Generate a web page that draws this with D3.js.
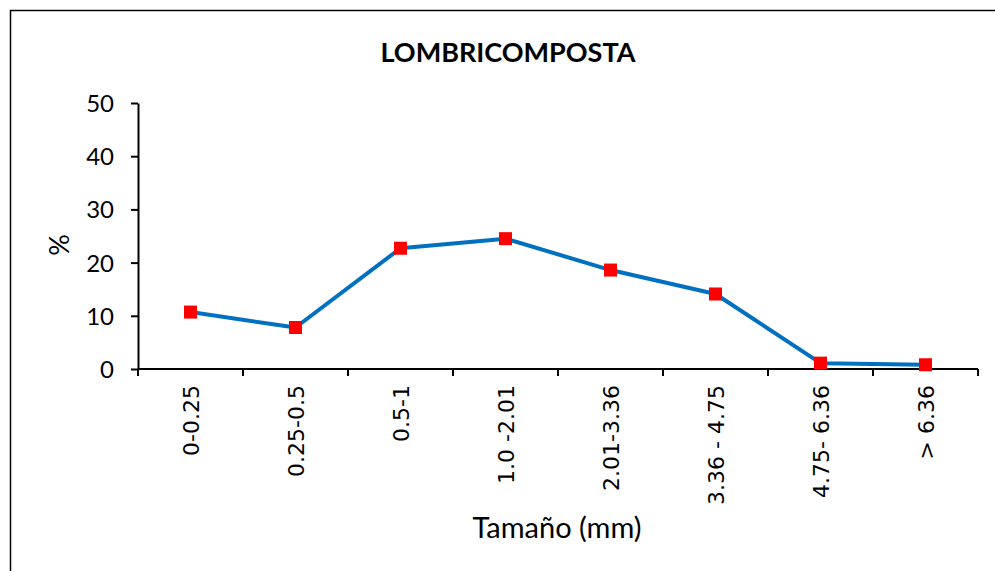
<!DOCTYPE html>
<head>
  <meta charset="utf-8">
  <script src="https://cdn.jsdelivr.net/npm/d3@7"></script>
  <style>
    body { margin: 0; background: #fff; }
    .axis path, .axis line { stroke: #000; stroke-width: 2; }
  </style>
</head>
<body>
<script>
  let categories = ["0-0.25", "0.25-0.5", "0.5-1", "1.0 -2.01", "2.01-3.36", "3.36 - 4.75", "4.75- 6.36", "> 6.36"];
  let percent = [10.7, 7.8, 22.7, 24.5, 18.6, 14.1, 1.1, 0.8];
  let yTicks = [0, 10, 20, 30, 40, 50];

  let svg_width = 995;
  let svg_height = 571;
  let padding = {top: 103, right: 17, bottom: 202, left: 138};

  let svg = d3.select("body").append("svg")
          .attr("width", svg_width)
          .attr("height", svg_height)

  // chart frame
  svg.append("rect")
          .attr("x", 10.5).attr("y", 10.5)
          .attr("width", 1000).attr("height", 600)
          .attr("fill", "none").attr("stroke", "#000").attr("stroke-width", 1.5)

  let xScale = d3.scaleBand()
          .domain(categories)
          .range([padding.left, svg_width - padding.right])

  let yScale = d3.scaleLinear()
          .domain([0, 50])
          .range([svg_height - padding.bottom, padding.top])

  // x axis: ticks at category boundaries
  let x_axis_g = svg.append("g")
          .attr("class", "axis")
          .attr("transform", "translate(0," + yScale(0) + ")")
  x_axis_g.append("line")
          .attr("x1", xScale.range()[0]).attr("x2", xScale.range()[1])
  let bounds = categories.map(function (c) { return xScale(c) }).concat([xScale.range()[1]])
  x_axis_g.selectAll(".tk")
          .data(bounds)
          .enter()
          .append("line")
          .attr("x1", function (d) { return d }).attr("x2", function (d) { return d })
          .attr("y1", 0).attr("y2", 7)
  x_axis_g.selectAll("text")
          .data(categories)
          .enter()
          .append("text")
          .attr("transform", function (d) {
            return "translate(" + (xScale(d) + xScale.bandwidth() / 2 + 8) + ",16) rotate(-90)"
          })
          .attr("text-anchor", "end")
          .style("font-family", "DejaVu Sans")
          .style("font-size", "22px")
          .text(function (d) { return d })

  let y_axis = d3.axisLeft(yScale)
          .tickValues(yTicks)
          .tickSize(7)
          .tickSizeOuter(0)
          .tickPadding(17)

  svg.append("g")
          .attr("class", "axis")
          .attr("transform", "translate(" + padding.left + ",0)")
          .call(y_axis)
          .selectAll("text")
          .style("font-family", "Lato")
          .style("font-size", "24px")
          .attr("dy", "0.35em")

  let line = d3.line()
          .x(function (d, i) { return xScale(categories[i]) + xScale.bandwidth() / 2 })
          .y(function (d) { return yScale(d) })

  svg.append("path")
          .datum(percent)
          .attr("fill", "none")
          .attr("stroke", "#0070C0")
          .attr("stroke-width", 4)
          .attr("stroke-linejoin", "round")
          .attr("d", line)

  svg.selectAll(".pt")
          .data(percent)
          .enter()
          .append("rect")
          .attr("x", function (d, i) { return xScale(categories[i]) + xScale.bandwidth() / 2 - 6.5 })
          .attr("y", function (d) { return yScale(d) - 6.5 })
          .attr("width", 13).attr("height", 13)
          .attr("fill", "#FF0000")

  svg.append("text")
          .attr("x", 508)
          .attr("y", 62)
          .attr("text-anchor", "middle")
          .style("font-family", "Lato")
          .style("font-weight", "bold")
          .style("font-size", "27px")
          .text("LOMBRICOMPOSTA");

  svg.append("text")
          .attr("transform", "translate(69," + yScale(23.3) + ") rotate(-90)")
          .attr("text-anchor", "middle")
          .style("font-family", "Lato")
          .style("font-size", "27px")
          .text("%");

  svg.append("text")
          .attr("x", 557)
          .attr("y", 538)
          .attr("text-anchor", "middle")
          .style("font-family", "Lato")
          .style("font-size", "29px")
          .text("Tamaño (mm)");
</script>
</body>
